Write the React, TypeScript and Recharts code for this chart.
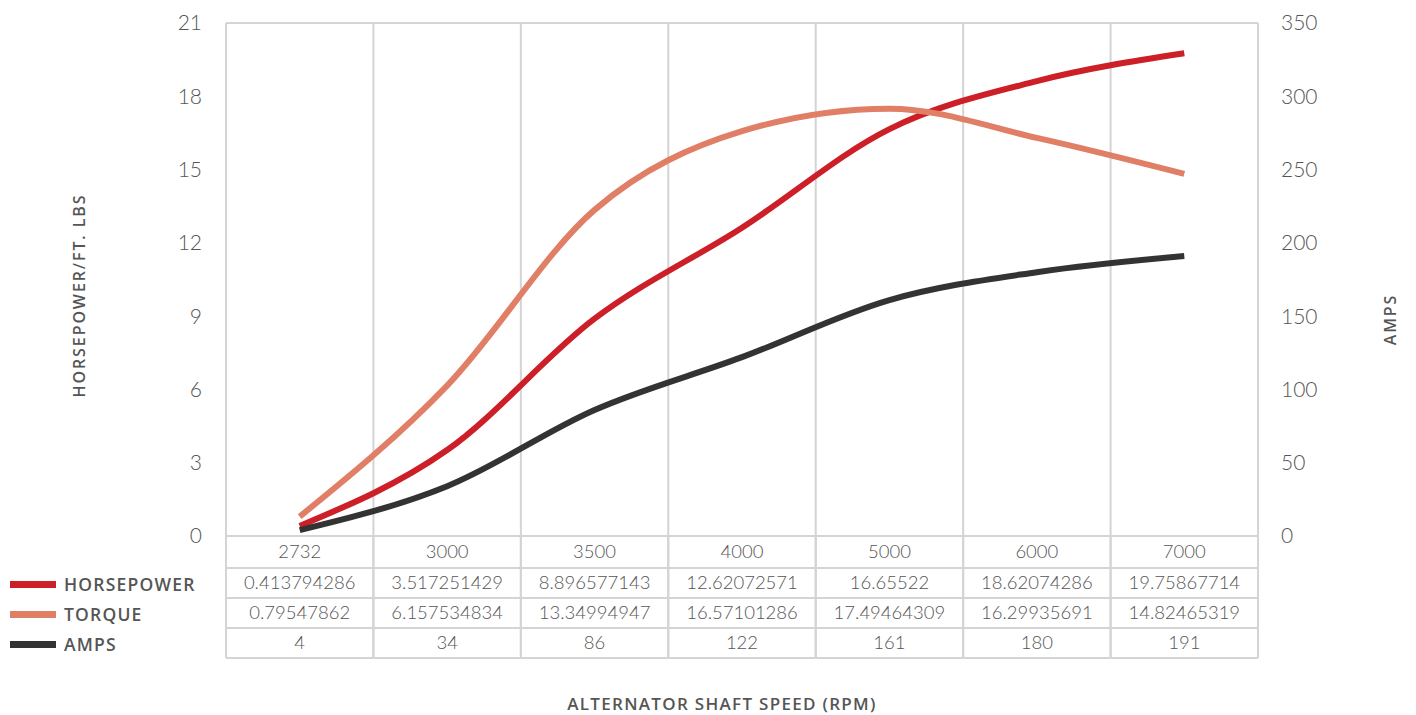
import React from 'react';
import {
  ComposedChart,
  Line,
  XAxis,
  YAxis,
  CartesianGrid,
  Legend,
} from 'recharts';

const speeds = ['2732', '3000', '3500', '4000', '5000', '6000', '7000'];
const horsepower = [0.413794286, 3.517251429, 8.896577143, 12.62072571, 16.65522, 18.62074286, 19.75867714];
const torque = [0.79547862, 6.157534834, 13.34994947, 16.57101286, 17.49464309, 16.29935691, 14.82465319];
const amps = [4, 34, 86, 122, 161, 180, 191];
const leftTicks = [0, 3, 6, 9, 12, 15, 18, 21];
const rightTicks = [0, 50, 100, 150, 200, 250, 300, 350];
const seriesOrder = ['HORSEPOWER', 'TORQUE', 'AMPS'];

const data = speeds.map((s, i) => ({
  speed: s,
  hp: horsepower[i],
  torque: torque[i],
  amps: amps[i],
}));

const W = 1416;
const H = 715;
const PLOT_LEFT = 226;
const PLOT_RIGHT = 1258;
const PLOT_TOP = 23;
const PLOT_BOTTOM = 536;
const Y_AXIS_W = 60;
const CELL_W = (PLOT_RIGHT - PLOT_LEFT) / speeds.length;

const NUM_FONT = 'Lato, sans-serif';
const FONT = '"Open Sans", sans-serif';
const TEXT = '#555555';
const GRID = '#d4d4d4';
const RED = '#cc1f27';
const SALMON = '#e07e66';
const DARK = '#333333';

const ROW_H = 30;

const TableTick = (props: any) => {
  const { x, payload } = props;
  const i = payload.index;
  const top = PLOT_BOTTOM;
  const rows = [
    { v: speeds[i], h: 32 },
    { v: String(horsepower[i]), h: ROW_H },
    { v: String(torque[i]), h: ROW_H },
    { v: String(amps[i]), h: ROW_H },
  ];
  const x0 = x - CELL_W / 2;
  const x1 = x + CELL_W / 2;
  let y = top;
  const out: React.ReactNode[] = [];
  rows.forEach((r, k) => {
    const yEnd = y + r.h;
    out.push(
      <text key={'t' + k} x={x} y={y + r.h / 2 + 6} textAnchor="middle" fontFamily={NUM_FONT} fontWeight={300} fontSize={18.5} fill={TEXT}>
        {r.v}
      </text>
    );
    out.push(<line key={'h' + k} x1={x0} x2={x1} y1={yEnd} y2={yEnd} stroke={GRID} strokeWidth={2} />);
    y = yEnd;
  });
  out.push(<line key="vl" x1={x0} x2={x0} y1={top} y2={y} stroke={GRID} strokeWidth={2} />);
  out.push(<line key="vr" x1={x1} x2={x1} y1={top} y2={y} stroke={GRID} strokeWidth={2} />);
  return <g>{out}</g>;
};

const LegendBox = (props: any) => {
  const items = [...(props.payload || [])].sort(
    (a: any, b: any) => seriesOrder.indexOf(a.value) - seriesOrder.indexOf(b.value)
  );
  return (
    <div style={{ fontFamily: FONT }}>
      {items.map((it: any) => (
        <div key={it.value} style={{ display: 'flex', alignItems: 'center', height: ROW_H }}>
          <div style={{ width: 46, height: 7, background: it.color, marginRight: 8 }} />
          <span style={{ fontSize: 17.5, fontWeight: 600, color: TEXT, letterSpacing: 1.2 }}>{it.value}</span>
        </div>
      ))}
    </div>
  );
};

export default function App() {
  return (
    <div style={{ position: 'absolute', left: 0, top: 0, width: W, height: H, background: '#fff' }}>
      <ComposedChart
        width={W}
        height={H}
        data={data}
        margin={{ top: PLOT_TOP, left: PLOT_LEFT - Y_AXIS_W, right: W - PLOT_RIGHT - Y_AXIS_W, bottom: 0 }}
      >
        <CartesianGrid
          stroke={GRID}
          strokeWidth={2}
          verticalCoordinatesGenerator={({ offset }: any) =>
            speeds.map((_, i) => offset.left + (i * offset.width) / speeds.length).concat([offset.left + offset.width])
          }
        />
        <XAxis
          dataKey="speed"
          height={H - PLOT_BOTTOM}
          padding={{ left: CELL_W / 2, right: CELL_W / 2 }}
          axisLine={false}
          tickLine={false}
          tickSize={0}
          tickMargin={0}
          interval={0}
          tick={<TableTick />}
          label={{
            value: 'ALTERNATOR SHAFT SPEED (RPM)',
            position: 'insideBottom',
            offset: 5,
            dx: -20,
            fontFamily: FONT,
            fontSize: 17,
            fontWeight: 600,
            fill: TEXT,
            letterSpacing: 1.3,
          }}
        />
        <YAxis
          yAxisId="left"
          width={Y_AXIS_W}
          domain={[0, 21]}
          ticks={leftTicks}
          axisLine={false}
          tickLine={false}
          tickSize={0}
          tickMargin={24}
          tick={{ fontFamily: NUM_FONT, fontWeight: 300, fontSize: 21, fill: TEXT }}
          label={{
            value: 'HORSEPOWER/FT. LBS',
            angle: -90,
            position: 'insideLeft',
            dx: -92,
            dy: 16,
            fontFamily: FONT,
            fontSize: 16,
            fontWeight: 600,
            fill: TEXT,
            letterSpacing: 1.9,
            style: { textAnchor: 'middle' },
          }}
        />
        <YAxis
          yAxisId="right"
          orientation="right"
          width={Y_AXIS_W}
          domain={[0, 350]}
          ticks={rightTicks}
          axisLine={false}
          tickLine={false}
          tickSize={0}
          tickMargin={23}
          tick={{ fontFamily: NUM_FONT, fontWeight: 300, fontSize: 21, fill: TEXT, textAnchor: 'start' }}
          label={{
            value: 'AMPS',
            angle: -90,
            position: 'insideRight',
            dx: 77,
            dy: 40,
            fontFamily: FONT,
            fontSize: 16,
            fontWeight: 600,
            fill: TEXT,
            letterSpacing: 1.9,
            style: { textAnchor: 'middle' },
          }}
        />
        <Legend
          layout="vertical"
          verticalAlign="middle"
          align="center"
          content={<LegendBox />}
          wrapperStyle={{ left: 10, top: 569, width: 210 }}
        />
        <Line yAxisId="left" type="monotone" dataKey="hp" name="HORSEPOWER" stroke={RED} strokeWidth={6} dot={false} isAnimationActive={false} />
        <Line yAxisId="left" type="monotone" dataKey="torque" name="TORQUE" stroke={SALMON} strokeWidth={6} dot={false} isAnimationActive={false} />
        <Line yAxisId="right" type="monotone" dataKey="amps" name="AMPS" stroke={DARK} strokeWidth={6} dot={false} isAnimationActive={false} />
      </ComposedChart>
    </div>
  );
}
